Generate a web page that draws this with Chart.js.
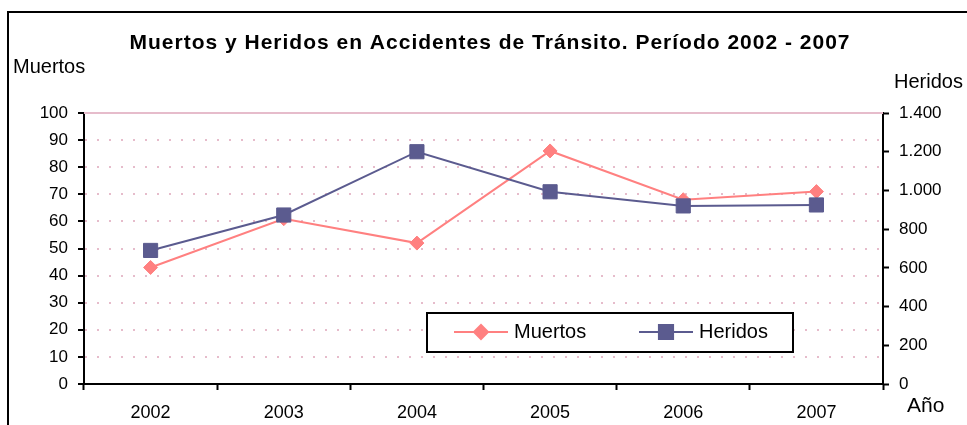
<!DOCTYPE html>
<html>
<head>
<meta charset="utf-8">
<script src="https://cdn.jsdelivr.net/npm/chart.js@4.4.1/dist/chart.umd.min.js"></script>
<style>
  html, body { margin: 0; padding: 0; background: #fff; }
</style>
</head>
<body>
<canvas id="chart" width="967" height="425"></canvas>
<script>
const years = ['2002', '2003', '2004', '2005', '2006', '2007'];
const muertos = [43, 61, 52, 86, 68, 71];
const heridos = [690, 873, 1200, 993, 920, 925];
const muertosTicks = [0, 10, 20, 30, 40, 50, 60, 70, 80, 90, 100];
const heridosTicks = [0, 200, 400, 600, 800, 1000, 1200, 1400];

const FONT = '"Liberation Sans", Arial, sans-serif';
const pink = '#ff8080';
const navy = '#5b5b8f';
const gridPink = '#e6bccb';

// miles con punto: 1400 -> 1.400
function miles(v) {
  return String(v).replace(/\B(?=(\d{3})+(?!\d))/g, '.');
}

// marco, titulo y rotulos de ejes
const frame = {
  id: 'frame',
  afterDraw(chart) {
    const ctx = chart.ctx;
    ctx.save();
    ctx.strokeStyle = '#000';
    ctx.lineWidth = 2;
    ctx.beginPath();
    ctx.moveTo(8, 425);
    ctx.lineTo(8, 12);
    ctx.lineTo(967, 12);
    ctx.stroke();

    ctx.fillStyle = '#000';
    ctx.textBaseline = 'middle';
    ctx.textAlign = 'center';
    ctx.font = 'bold 21px ' + FONT;
    ctx.letterSpacing = '1px';
    ctx.fillText('Muertos y Heridos en Accidentes de Tránsito. Período 2002 - 2007', 490, 43);
    ctx.letterSpacing = '0px';

    ctx.textAlign = 'left';
    ctx.font = '20px ' + FONT;
    ctx.fillText('Muertos', 13, 67);
    ctx.fillText('Heridos', 894, 82);
    ctx.font = '21px ' + FONT;
    ctx.fillText('Año', 907, 406);
    ctx.restore();
  }
};

// linea superior del area (100) continua
const topLine = {
  id: 'topLine',
  beforeDatasetsDraw(chart) {
    const ctx = chart.ctx;
    const a = chart.chartArea;
    const y = chart.scales.y.getPixelForValue(100);
    ctx.save();
    ctx.strokeStyle = gridPink;
    ctx.lineWidth = 2;
    ctx.beginPath();
    ctx.moveTo(a.left, y);
    ctx.lineTo(a.right, y);
    ctx.stroke();
    ctx.restore();
  }
};

// leyenda con recuadro dentro del grafico
const boxLegend = {
  id: 'boxLegend',
  afterDraw(chart) {
    const ctx = chart.ctx;
    ctx.save();
    ctx.fillStyle = '#fff';
    ctx.fillRect(427, 313, 366, 39);
    ctx.strokeStyle = '#000';
    ctx.lineWidth = 2;
    ctx.strokeRect(427, 313, 366, 39);

    const slots = [454, 639];
    chart.data.datasets.forEach((ds, i) => {
      const x0 = slots[i];
      const y = 332;
      ctx.strokeStyle = ds.borderColor;
      ctx.lineWidth = 2;
      ctx.beginPath();
      ctx.moveTo(x0, y);
      ctx.lineTo(x0 + 54, y);
      ctx.stroke();
      ctx.fillStyle = ds.backgroundColor;
      Chart.helpers.drawPoint(ctx, {
        pointStyle: ds.pointStyle,
        radius: ds.pointRadius,
        rotation: 0,
        borderWidth: 1
      }, x0 + 27, y);
      ctx.fillStyle = '#000';
      ctx.font = '20px ' + FONT;
      ctx.textAlign = 'left';
      ctx.textBaseline = 'middle';
      ctx.fillText(ds.label, x0 + 60, y);
    });
    ctx.restore();
  }
};

new Chart(document.getElementById('chart'), {
  type: 'line',
  data: {
    labels: years,
    datasets: [
      {
        label: 'Muertos',
        data: muertos,
        yAxisID: 'y',
        borderColor: pink,
        backgroundColor: pink,
        borderWidth: 2,
        pointStyle: 'rectRot',
        pointRadius: 7,
        pointBorderWidth: 1,
        order: 1
      },
      {
        label: 'Heridos',
        data: heridos,
        yAxisID: 'y1',
        borderColor: navy,
        backgroundColor: navy,
        borderWidth: 2,
        pointStyle: 'rect',
        pointRadius: 10,
        pointBorderWidth: 1,
        order: 0
      }
    ]
  },
  options: {
    responsive: false,
    animation: false,
    layout: { padding: { top: 113, left: 0, right: 0, bottom: 0 } },
    plugins: {
      legend: { display: false },
      title: { display: false },
      tooltip: { enabled: false }
    },
    scales: {
      x: {
        offset: true,
        grid: {
          offset: true,
          drawOnChartArea: false,
          tickLength: 6,
          tickColor: '#000',
          tickWidth: 2
        },
        border: { color: '#000', width: 2 },
        ticks: { color: '#000', font: { family: FONT, size: 18 }, padding: 12, maxRotation: 0 },
        afterFit: s => { s.height = 41; }
      },
      y: {
        position: 'left',
        min: 0,
        max: 100,
        afterBuildTicks: s => { s.ticks = muertosTicks.map(v => ({ value: v })); },
        grid: {
          color: c => (c.tick.value === 0 || c.tick.value === 100) ? 'rgba(0,0,0,0)' : gridPink,
          lineWidth: 2,
          tickLength: 6,
          tickColor: '#000',
          tickWidth: 2
        },
        border: { color: '#000', width: 2, dash: [2, 10] },
        ticks: { color: '#000', font: { family: FONT, size: 17 }, padding: 10 },
        afterFit: s => { s.width = 84; }
      },
      y1: {
        position: 'right',
        min: 0,
        max: 1400,
        afterBuildTicks: s => { s.ticks = heridosTicks.map(v => ({ value: v })); },
        grid: {
          drawOnChartArea: false,
          tickLength: 6,
          tickColor: '#000',
          tickWidth: 2
        },
        border: { color: '#000', width: 2 },
        ticks: { color: '#000', font: { family: FONT, size: 17 }, padding: 10, callback: v => miles(v) },
        afterFit: s => { s.width = 84; }
      }
    }
  },
  plugins: [topLine, frame, boxLegend]
});
</script>
</body>
</html>
